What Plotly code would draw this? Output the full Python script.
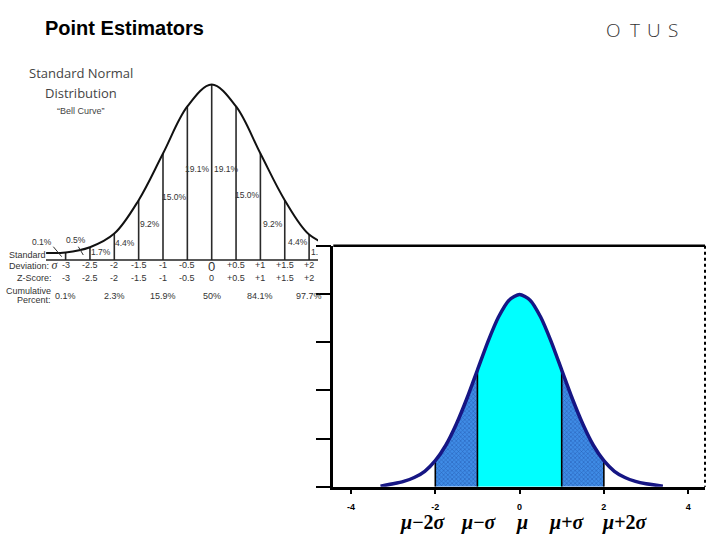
import plotly.graph_objects as go

W, H = 720, 540

def px(x):
    return x / W

def py(y):
    return 1 - y / H

# ---------------- data ----------------
# Left picture: standard normal "bell curve" (relative heights)
left_z = [-3.4, -3.0, -2.5, -2.0, -1.5, -1.0, -0.5, 0.0, 0.5, 1.0, 1.5, 2.0, 2.5]
left_h = [0.016, 0.017, 0.029, 0.060, 0.136, 0.242, 0.349, 0.399, 0.349, 0.242, 0.136, 0.058, 0.030]
divider_z = [-3.0, -2.5, -2.0, -1.5, -1.0, -0.5, 0.0, 0.5, 1.0, 1.5, 2.0]

pct_labels = ["0.1%", "0.5%", "1.7%", "4.4%", "9.2%", "15.0%", "19.1%", "19.1%", "15.0%", "9.2%", "4.4%", "1."]
pct_z = [-3.48, -2.78, -2.27, -1.78, -1.27, -0.77, -0.30, 0.31, 0.73, 1.26, 1.78, 2.11]
pct_y = [241.7, 240, 252.3, 243, 224, 196.7, 169.3, 169.3, 195, 224, 242, 252.3]

sd_labels = ["-3", "-2.5", "-2", "-1.5", "-1", "-0.5", "0", "+0.5", "+1", "+1.5", "+2"]
z_labels = ["-3", "-2.5", "-2", "-1.5", "-1", "-0.5", "0", "+0.5", "+1", "+1.5", "+2"]
cum_z = [-3, -2, -1, 0, 1, 2]
cum_labels = ["0.1%", "2.3%", "15.9%", "50%", "84.1%", "97.7%"]

# Right chart: normal density
right_x = [-3.3, -3.0, -2.75, -2.5, -2.25, -2.0, -1.75, -1.5, -1.25, -1.0, -0.75, -0.5, -0.25,
           0.0, 0.25, 0.5, 0.75, 1.0, 1.25, 1.5, 1.75, 2.0, 2.25, 2.5, 2.75, 3.0, 3.4]
right_y = [0.001, 0.006, 0.011, 0.019, 0.032, 0.054, 0.086, 0.130, 0.183, 0.242, 0.301, 0.352, 0.387,
           0.399, 0.387, 0.352, 0.301, 0.242, 0.183, 0.130, 0.086, 0.054, 0.032, 0.019, 0.011, 0.006, 0.001]
right_ticks = [-4, -2, 0, 2, 4]
right_ticktext = ["-4", "-2", "0", "2", "4"]
mu_labels = ["<i>μ</i>−2<i>σ</i>", "<i>μ</i>−<i>σ</i>", "<i>μ</i>", "<i>μ</i>+<i>σ</i>", "<i>μ</i>+2<i>σ</i>"]
mu_x = [-2.30, -0.96, 0.06, 1.12, 2.50]

fig = go.Figure()

# ---------------- left picture ----------------
vx, vy = [], []
for z in divider_z:
    h = left_h[left_z.index(z)]
    vx += [z, z, None]
    vy += [0, h, None]
fig.add_trace(go.Scatter(x=vx, y=vy, mode="lines", xaxis="x2", yaxis="y2",
                         line=dict(color="#2a2a2a", width=1.6), hoverinfo="skip", showlegend=False))
fig.add_trace(go.Scatter(x=left_z, y=left_h, mode="lines", xaxis="x2", yaxis="y2",
                         line=dict(color="#111111", width=2, shape="spline", smoothing=1.0),
                         hoverinfo="skip", showlegend=False))

# ---------------- right chart ----------------
def region(lo, hi):
    xs = [x for x in right_x if lo <= x <= hi]
    ys = [right_y[right_x.index(x)] for x in xs]
    return [lo] + xs + [hi], [0] + ys + [0]

for lo, hi in [(-2.0, -1.0), (1.0, 2.0)]:
    xs, ys = region(lo, hi)
    fig.add_trace(go.Scatter(x=xs, y=ys, mode="lines", fill="toself",
                             fillcolor="#3a86e0",
                             fillpattern=dict(shape="x", fgcolor="#123a8c", bgcolor="#3f8ce6",
                                              size=3, solidity=0.35),
                             line=dict(width=0), hoverinfo="skip", showlegend=False))
xs, ys = region(-1.0, 1.0)
fig.add_trace(go.Scatter(x=xs, y=ys, mode="lines", fill="toself", fillcolor="#00FFFF",
                         line=dict(width=0), hoverinfo="skip", showlegend=False))
bx, by = [], []
for v in [-2.0, -1.0, 1.0, 2.0]:
    bx += [v, v, None]
    by += [0, right_y[right_x.index(v)], None]
fig.add_trace(go.Scatter(x=bx, y=by, mode="lines", line=dict(color="black", width=1.6),
                         hoverinfo="skip", showlegend=False))
fig.add_trace(go.Scatter(x=right_x, y=right_y, mode="lines",
                         line=dict(color="#161684", width=3.5, shape="spline", smoothing=0.6),
                         hoverinfo="skip", showlegend=False))

# ---------------- layout ----------------
zu = 48.7    # px per z unit (left picture)
z0 = 211.7   # px of z = 0
hu = 440.0   # px per height unit
base = 260.0 # px of baseline

fig.update_layout(
    width=W, height=H, margin=dict(l=0, r=0, t=0, b=0),
    paper_bgcolor="white", plot_bgcolor="white",
    xaxis=dict(domain=[333.3 / W, 705 / W], range=[-4.42, 4.40],
               tickvals=right_ticks, ticktext=right_ticktext,
               ticks="outside", ticklen=5, tickwidth=2, tickcolor="black",
               ticklabelstandoff=5,
               tickfont=dict(family="Arial", size=9, color="black", weight="bold"),
               showline=True, linewidth=2.5, linecolor="black", showgrid=False, zeroline=False),
    yaxis=dict(domain=[py(486.7), py(245.7)], range=[0, 0.5], dtick=0.1,
               ticks="outside", ticklen=15, tickwidth=2, tickcolor="black",
               showticklabels=False,
               showline=True, linewidth=2.5, linecolor="black", showgrid=False, zeroline=False),
    xaxis2=dict(domain=[0, 318 / W], range=[-z0 / zu, (318 - z0) / zu], anchor="y2",
                visible=False),
    yaxis2=dict(domain=[0, 1], range=[-(H - base) / hu, base / hu], anchor="x2",
                visible=False),
)

shapes = []
shapes.append(dict(type="line", xref="paper", yref="paper", x0=px(333.3), x1=px(705),
                   y0=py(245.7), y1=py(245.7), line=dict(color="black", width=2.5)))
shapes.append(dict(type="line", xref="paper", yref="paper", x0=px(705), x1=px(705),
                   y0=py(245.7), y1=py(486.7), line=dict(color="black", width=2, dash="dot")))
shapes.append(dict(type="line", xref="paper", yref="paper", x0=px(46), x1=px(318),
                   y0=py(260), y1=py(260), line=dict(color="#222", width=1.5)))
shapes.append(dict(type="line", xref="paper", yref="paper", x0=px(53.3), x1=px(61.7),
                   y0=py(246.7), y1=py(256.7), line=dict(color="#333", width=1)))
shapes.append(dict(type="line", xref="paper", yref="paper", x0=px(78.3), x1=px(83.3),
                   y0=py(246.7), y1=py(255), line=dict(color="#333", width=1)))
fig.update_layout(shapes=shapes)

ann = []
ann.append(dict(text="<b>Point Estimators</b>", x=px(43), y=py(28), xref="paper", yref="paper",
                xanchor="left", showarrow=False,
                font=dict(family="Liberation Sans", size=20, color="black")))
for ch, cx in zip(["O", "T", "U", "S"], [613, 635, 654, 672.5]):
    ann.append(dict(text=ch, x=px(cx), y=py(30.5), xref="paper", yref="paper", showarrow=False,
                    font=dict(family="Open Sans", size=19, color="#333", weight=300)))
ann.append(dict(text="Standard Normal", x=px(81), y=py(73), xref="paper", yref="paper",
                showarrow=False, font=dict(family="Open Sans", size=13, color="#444")))
ann.append(dict(text="Distribution", x=px(81), y=py(93), xref="paper", yref="paper",
                showarrow=False, font=dict(family="Open Sans", size=13, color="#444")))
ann.append(dict(text="“Bell Curve”", x=px(81), y=py(111), xref="paper", yref="paper",
                showarrow=False, font=dict(family="Arial", size=9, color="#444")))
for t, z, y in zip(pct_labels, pct_z, pct_y):
    ann.append(dict(text=t, x=z, y=py(y), xref="x2", yref="paper", showarrow=False,
                    font=dict(family="Arial", size=8.5, color="#333")))
rowfont = dict(family="Arial", size=9, color="#333")
ann.append(dict(text="Standard", x=px(7), y=py(255.5), xref="paper", yref="paper",
                xanchor="left", showarrow=False, font=rowfont))
ann.append(dict(text="Deviation: <i><span style='font-family:Liberation Serif;font-size:12px'>σ</span></i>",
                x=px(7), y=py(265), xref="paper", yref="paper",
                xanchor="left", showarrow=False, font=rowfont))
ann.append(dict(text="Z-Score:", x=px(15), y=py(278.3), xref="paper", yref="paper",
                xanchor="left", showarrow=False, font=rowfont))
ann.append(dict(text="Cumulative", x=px(4), y=py(290.5), xref="paper", yref="paper",
                xanchor="left", showarrow=False, font=rowfont))
ann.append(dict(text="Percent:", x=px(15), y=py(299.5), xref="paper", yref="paper",
                xanchor="left", showarrow=False, font=rowfont))
for t, z in zip(sd_labels, divider_z):
    big = (t == "0")
    ann.append(dict(text=t, x=z, y=py(266 if big else 265), xref="x2", yref="paper", showarrow=False,
                    font=dict(family="Arial", size=13 if big else 9, color="#333")))
for t, z in zip(z_labels, divider_z):
    ann.append(dict(text=t, x=z, y=py(278.3), xref="x2", yref="paper", showarrow=False, font=rowfont))
for t, z in zip(cum_labels, cum_z):
    ann.append(dict(text=t, x=z, y=py(296), xref="x2", yref="paper", showarrow=False, font=rowfont))
for t, x in zip(mu_labels, mu_x):
    ann.append(dict(text="<b>" + t + "</b>", x=x, y=py(522), xref="x", yref="paper", showarrow=False,
                    font=dict(family="Liberation Serif", size=20, color="black")))
for a in ann:
    a.setdefault("xanchor", "center")
    a.setdefault("yanchor", "middle")
fig.update_layout(annotations=ann)

fig.write_html("out.html")
